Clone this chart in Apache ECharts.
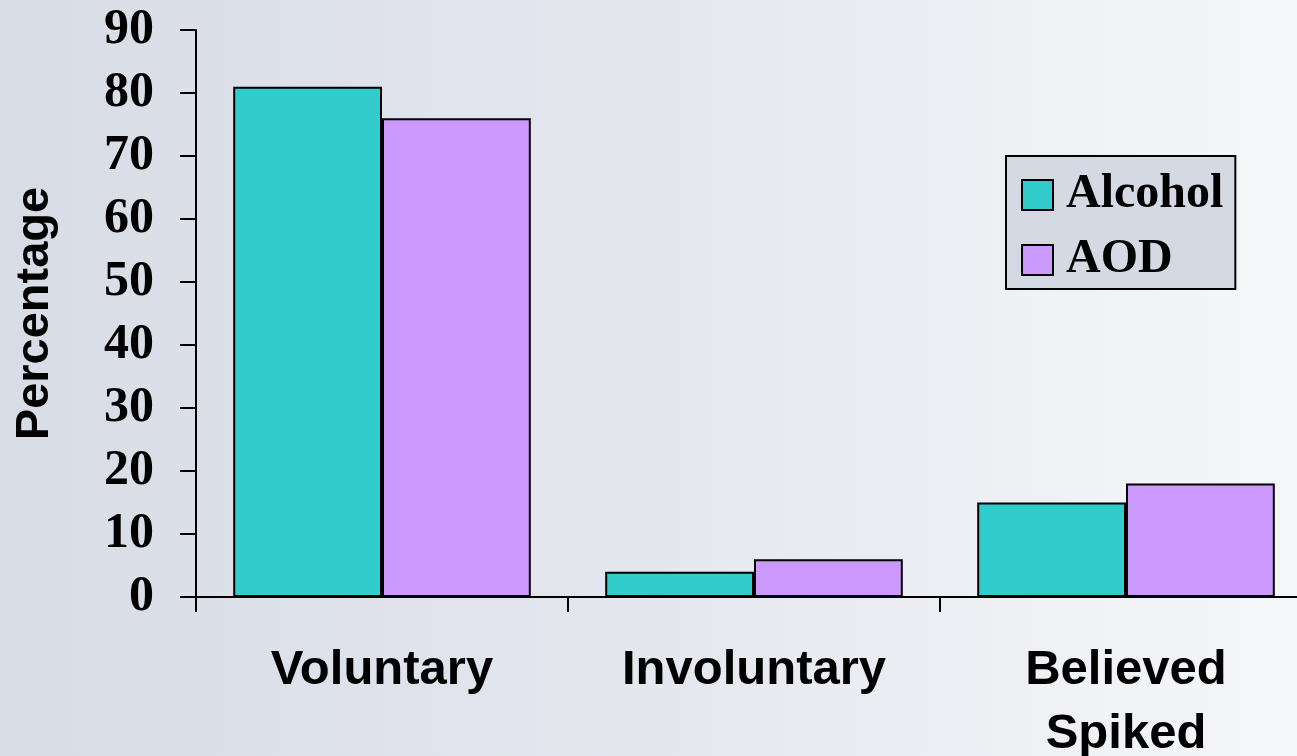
<!DOCTYPE html>
<html>
<head>
<meta charset="utf-8">
<script src="https://cdn.jsdelivr.net/npm/echarts@6/dist/echarts.min.js"></script>
<style>
  html, body { margin: 0; padding: 0; }
  #chart { width: 1297px; height: 756px; }
</style>
</head>
<body>
<div id="chart"></div>
<script>
// Drinking context categories and percentages per group
const categories = ['Voluntary', 'Involuntary', 'Believed\nSpiked'];
const alcoholValues = [81, 4, 15];
const aodValues = [76, 6, 18];
const seriesNames = ['Alcohol', 'AOD'];
const yTicks = { min: 0, max: 90, interval: 10 };

const chart = echarts.init(document.getElementById('chart'));

const serifBold = { fontFamily: 'Liberation Serif', fontWeight: 'bold', color: '#000' };
const sansBold = { fontFamily: 'Liberation Sans', fontWeight: 'bold', color: '#000' };

chart.setOption({
  backgroundColor: {
    type: 'linear', x: 0, y: 0, x2: 1, y2: 0,
    colorStops: [
      { offset: 0, color: '#d8dce6' },
      { offset: 0.5, color: '#e4e7ee' },
      { offset: 1, color: '#f6f7f9' }
    ]
  },
  animation: false,
  grid: {
    left: 196, top: 30, width: 1116, bottom: 159,
    containLabel: false,
    outerBoundsMode: 'none'
  },
  legend: {
    orient: 'vertical',
    left: 1006,
    top: 156,
    width: 232,
    backgroundColor: '#d5d9e3',
    borderColor: '#000',
    borderWidth: 2,
    borderRadius: 0,
    padding: [14, 12, 4, 15],
    itemWidth: 31,
    itemHeight: 30,
    itemGap: 15,
    icon: 'rect',
    textStyle: Object.assign({ fontSize: 48, lineHeight: 50, padding: [0, 0, 0, 8] }, serifBold),
    data: seriesNames
  },
  xAxis: {
    type: 'category',
    data: categories,
    axisLine: { lineStyle: { color: '#000', width: 2 } },
    axisTick: { show: true, length: 15, lineStyle: { color: '#000', width: 2 } },
    axisLabel: Object.assign({ fontSize: 49, lineHeight: 64, margin: 41, interval: 0 }, sansBold)
  },
  yAxis: {
    type: 'value',
    min: yTicks.min,
    max: yTicks.max,
    interval: yTicks.interval,
    name: 'Percentage',
    nameLocation: 'middle',
    nameGap: 137,
    nameRotate: 90,
    nameTextStyle: Object.assign({ fontSize: 47 }, sansBold),
    splitLine: { show: false },
    axisLine: { show: true, lineStyle: { color: '#000', width: 2 } },
    axisTick: { show: true, length: 16, lineStyle: { color: '#000', width: 2 } },
    axisLabel: Object.assign({ fontSize: 50, margin: 42 }, serifBold)
  },
  series: [
    {
      name: seriesNames[0],
      type: 'bar',
      data: alcoholValues,
      barGap: '0%',
      barCategoryGap: '20%',
      itemStyle: { color: '#33cccc', borderColor: '#000', borderWidth: 2 }
    },
    {
      name: seriesNames[1],
      type: 'bar',
      data: aodValues,
      barGap: '0%',
      barCategoryGap: '20%',
      itemStyle: { color: '#cc99ff', borderColor: '#000', borderWidth: 2 }
    }
  ]
});
</script>
</body>
</html>
